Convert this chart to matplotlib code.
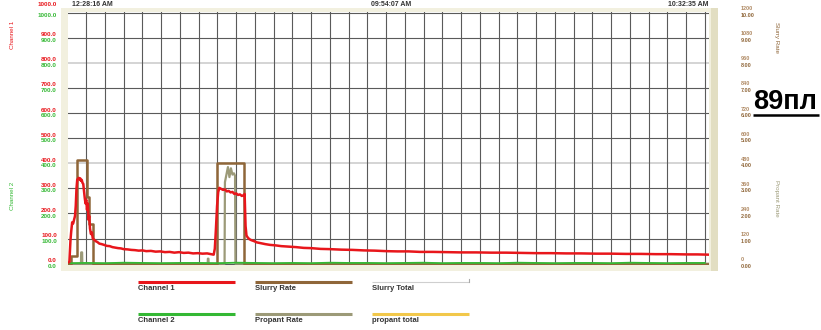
import matplotlib
matplotlib.use("Agg")
import matplotlib.pyplot as plt
from matplotlib.patches import Rectangle

plt.rcParams['font.family'] = ['Liberation Sans', 'DejaVu Sans']

W, H = 821, 330

# --- data -------------------------------------------------------------
# time in grid divisions from start of job
red_t = [0.00, 0.10, 0.16, 0.20, 0.25, 0.30, 0.35, 0.40, 0.44, 0.48, 0.52, 0.56, 0.60, 0.64,
         0.68, 0.72, 0.76, 0.80, 0.84, 0.88, 0.92, 0.96, 1.00, 1.04, 1.08, 1.12, 1.16, 1.20,
         1.25, 1.30, 1.35, 1.42, 1.50, 1.60, 1.70, 1.82, 1.95, 2.10, 2.25, 2.40, 2.55, 2.70,
         2.85, 3.00, 3.20, 3.40, 3.60, 3.80, 4.00, 4.20, 4.45, 4.70, 4.95, 5.20, 5.45, 5.70,
         5.95, 6.20, 6.45, 6.70, 6.95, 7.20, 7.45, 7.65, 7.80, 7.86, 7.92, 7.98, 8.04, 8.10,
         8.20, 8.30, 8.40, 8.50, 8.60, 8.70, 8.80, 8.90, 9.00, 9.10, 9.20, 9.30, 9.40, 9.45,
         9.50, 9.55, 9.62, 9.70, 9.80, 9.95, 10.10, 10.30, 10.55, 10.80, 11.10, 11.40, 11.80,
         12.20, 12.60, 13.00, 13.50, 14.00, 14.60, 15.20, 15.80, 16.40, 17.00, 17.60, 18.20,
         18.80, 19.50, 20.20, 21.00, 21.80, 22.60, 23.40, 24.20, 25.00, 25.80, 26.60, 27.40,
         28.20, 29.00, 29.80, 30.60, 31.40, 32.20, 33.00, 33.60, 34.20]
red_v = [4, 6, 95, 130, 165, 160, 175, 190, 230, 300, 335, 338, 342, 336,
         340, 330, 334, 322, 318, 290, 262, 240, 255, 215, 240, 175, 190, 140,
         118, 125, 100, 96, 90, 86, 80, 78, 75, 71, 70, 66, 64, 62,
         61, 58, 57, 55, 54, 52, 53, 50, 51, 48, 49, 46, 47, 44,
         46, 43, 44, 41, 42, 40, 41, 38, 36, 60, 140, 230, 285, 302,
         298, 294, 296, 288, 290, 284, 286, 278, 280, 274, 276, 270, 273, 278,
         150, 112, 104, 98, 94, 90, 85, 82, 78, 75, 73, 70, 68,
         66, 63, 62, 59, 58, 56, 55, 53, 52, 50, 49, 49,
         47, 47, 46, 45, 45, 44, 44, 43, 42, 42, 41, 41,
         40, 40, 39, 39, 38, 38, 37, 37, 36]

green_t = list(range(35))
green_v = [2, 3, 2, 4, 3, 2, 3, 3, 2, 4, 3, 2, 3, 2, 4, 3, 3, 2, 3, 4, 2, 3, 3, 2,
           4, 3, 2, 3, 3, 2, 4, 3, 2, 3, 3]

slurry_t = [0.00, 0.18, 0.52, 1.02, 1.16, 1.38, 7.98, 9.42, 34.2]
slurry_v = [0.0, 0.3, 4.15, 2.65, 1.6, 0.0, 4.0, 0.0, 0.0]

prop_t = [0.00, 0.72, 0.73, 0.78, 0.79, 7.48, 7.49, 7.52, 7.53, 8.38, 8.40, 8.48, 8.56,
          8.64, 8.72, 8.80, 8.88, 8.94, 8.96, 34.2]
prop_v = [0.0, 0.0, 0.45, 0.45, 0.0, 0.0, 0.2, 0.2, 0.0, 0.0, 3.25, 3.55, 3.85,
          3.45, 3.80, 3.55, 3.60, 3.50, 0.0, 0.0]

left_ticks = [0, 100, 200, 300, 400, 500, 600, 700, 800, 900, 1000]
right_ticks_a = ['0', '120', '240', '360', '480', '600', '720', '840', '960', '1080', '1200']
right_ticks_b = ['0.00', '1.00', '2.00', '3.00', '4.00', '5.00', '6.00', '7.00', '8.00',
                 '9.00', '10.00']
time_labels = ['12:28:16 AM', '09:54:07 AM', '10:32:35 AM']

RED = '#e8161b'
GREEN = '#34b834'
BROWN = '#8f6639'
OLIVE = '#9c9a78'
TAN = '#b08a64'
FRAME = '#f2f0df'

# --- figure -----------------------------------------------------------
fig = plt.figure(figsize=(W / 100, H / 100), dpi=100, facecolor='white')

def fx(px):
    return px / W

def fy(py):
    return 1 - py / H

# background layer in pixel coordinates (y down), behind everything else
bg = fig.add_axes([0, 0, 1, 1], zorder=-10)
bg.set_xlim(0, W)
bg.set_ylim(H, 0)
bg.axis('off')
# beige frame as four strips round the white plot field
bg.add_patch(Rectangle((61, 8), 6.5, 263, facecolor=FRAME, edgecolor='none'))
bg.add_patch(Rectangle((61, 8), 657, 3.7, facecolor=FRAME, edgecolor='none'))
bg.add_patch(Rectangle((61, 265), 657, 6, facecolor=FRAME, edgecolor='none'))
bg.add_patch(Rectangle((708.5, 8), 2, 263, facecolor=FRAME, edgecolor='none'))
bg.add_patch(Rectangle((710.5, 8), 7.5, 263, facecolor='#e2dec2', edgecolor='none'))

# legend strip drawn on the same layer
legend_items = [
    ('Channel 1', RED, 138, 282, 2.2),
    ('Slurry Rate', BROWN, 255, 282, 2.2),
    ('Slurry Total', '#cfcfcf', 372, 282, 0.8),
    ('Channel 2', GREEN, 138, 314, 2.2),
    ('Propant Rate', OLIVE, 255, 314, 2.2),
    ('propant total', '#f2c84b', 372, 314, 2.2),
]
for name, col, x0, y0, lw in legend_items:
    bg.plot([x0, x0 + 97], [y0, y0], color=col, lw=lw, solid_capstyle='butt')
    bg.text(x0, y0 + 6.5, name, ha='left', va='center', fontsize=5.5,
            fontweight='bold', color='#333333')
bg.plot([469, 469], [282, 279], color='#aaaaaa', lw=0.8)

# well number
bg.text(753, 102, '89пл', ha='left', va='center', fontsize=19.5,
        fontweight='bold', color='black')
bg.plot([753, 819], [115, 115], color='black', lw=1.8, solid_capstyle='butt')

# time stamps along the top
for lbl, px, ha in zip(time_labels, [71.5, 391, 708], ['left', 'center', 'right']):
    bg.text(px, 5, lbl, ha=ha, va='center', fontsize=5, fontweight='bold',
            color='#333333')

bg.text(13, 35, 'Channel 1', rotation=90, ha='center', va='center',
        fontsize=4.5, color=RED)
bg.text(13, 196, 'Channel 2', rotation=90, ha='center', va='center',
        fontsize=4.5, color=GREEN)
bg.text(776, 37, 'Slurry Rate', rotation=270, ha='center', va='center',
        fontsize=4.5, color=BROWN)
bg.text(776, 198, 'Propant Rate', rotation=270, ha='center', va='center',
        fontsize=4.5, color=OLIVE)

# --- plotting axes ------------------------------------------------------
ax = fig.add_axes([fx(67.5), fy(264.7), fx(708.5) - fx(67.5), fy(11.7) - fy(264.7)])
ax.set_xlim(0, 34.2)
ax.set_ylim(-4, 1004)
for s in ax.spines.values():
    s.set_visible(False)
ax.set_xticks([])
ax.set_yticks([])

ax2 = ax.twinx()
ax2.set_ylim(-0.04, 10.04)
ax2.set_yticks([])
for s in ax2.spines.values():
    s.set_visible(False)
ax2.patch.set_visible(False)

# grid lives on the lower axes
for v in left_ticks:
    if v in (400, 800):
        ax2.axhline(v / 100, color='#d4d4d4', lw=1.4, zorder=1)
    else:
        ax2.axhline(v / 100, color='#5a5a5a', lw=0.8, zorder=1)
for k in range(1, 35):
    ax2.axvline(k, color='#5a5a5a', lw=0.8, zorder=1)

ax2.plot(prop_t, prop_v, color=OLIVE, lw=1.6, zorder=3)
ax2.plot(slurry_t, slurry_v, color=BROWN, lw=1.8, drawstyle='steps-post', zorder=4)
ax.plot(green_t, green_v, color=GREEN, lw=1.3, zorder=3)
ax.plot(red_t, red_v, color=RED, lw=1.8, zorder=5)
ax.set_zorder(ax2.get_zorder() + 1)
ax.patch.set_visible(False)

# axis labels (two rows per tick)
ytr = ax.get_yaxis_transform()
for v in left_ticks:
    up = 33 if v == 1000 else 12
    ax.text(-0.0165, v + up, f'{v:.1f}', transform=ytr, ha='right', va='center',
            fontsize=4.5, fontweight='bold', color=RED)
    ax.text(-0.0165, v - 10, f'{v:.1f}', transform=ytr, ha='right', va='center',
            fontsize=4.5, fontweight='bold', color=GREEN)
for v, a, b in zip(left_ticks, right_ticks_a, right_ticks_b):
    ax.text(1.0507, v + 16, a, transform=ytr, ha='left', va='center',
            fontsize=4, fontweight='bold', color=TAN)
    ax.text(1.0507, v - 10, b, transform=ytr, ha='left', va='center',
            fontsize=4, fontweight='bold', color=BROWN)

fig.savefig('out.png', dpi=100, facecolor='white')
